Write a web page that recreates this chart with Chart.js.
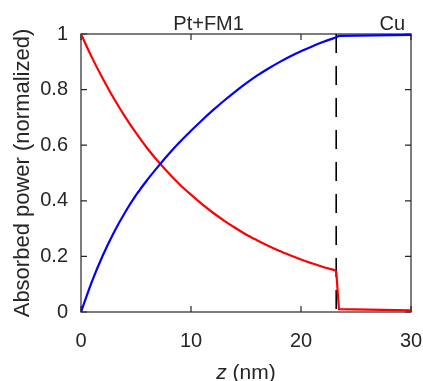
<!DOCTYPE html>
<html><head><meta charset="utf-8">
<script src="https://cdn.jsdelivr.net/npm/chart.js@4"></script>
<style>html,body{margin:0;padding:0;background:#fff;overflow:hidden}canvas{display:block}</style>
</head><body><canvas id="c" width="423" height="381" style="width:423px;height:381px"></canvas>
<script>
// ---- data ----
const zFM = [0,1,2,3,4,5,6,7,8,9,10,11,12,13,14,15,16,17,18,19,20,21,22,23.2];
const redFM  = [1,0.915,0.838,0.767,0.703,0.644,0.59,0.542,0.498,0.458,0.422,0.388,0.357,0.329,0.303,0.279,0.258,0.238,0.22,0.204,0.189,0.175,0.162,0.149];
const blueFM = [0,0.11,0.205,0.287,0.358,0.42,0.474,0.523,0.569,0.612,0.652,0.69,0.726,0.76,0.792,0.822,0.85,0.875,0.898,0.919,0.938,0.955,0.971,0.988];
const zCu    = [23.2, 23.45, 30];
const redCu  = [0.149, 0.01, 0.006];
const blueCu = [0.988, 0.993, 0.997];
const interfaceZ = 23.2;
const xTicks = [0,10,20,30];
const yTicks = [0,0.2,0.4,0.6,0.8,1];
const regionLabels = ['Pt+FM1','Cu'];
const regionLabelZ = [11.6, 28.3];
const xTitleItalic = 'z';
const xTitleRest = ' (nm)';
const yTitle = 'Absorbed power (normalized)';

const FONT = '"Liberation Sans", Arial, Helvetica, sans-serif';
const INK = '#262626';

const pts = (zs, vs) => zs.map((z,i)=>({x:z,y:vs[i]}));
const dashPts = [{x:interfaceZ,y:1},{x:interfaceZ,y:0}];

const framePlugin = {
  id:'frame',
  beforeDatasetsDraw(chart){
    const {ctx, chartArea:a, scales:{x,y}} = chart;
    ctx.save();
    ctx.strokeStyle = INK; ctx.lineWidth = 1.2;
    ctx.strokeRect(a.left, a.top, a.right-a.left, a.bottom-a.top);
    const tl = 6;
    ctx.beginPath();
    xTicks.forEach(v=>{const px=x.getPixelForValue(v);
      ctx.moveTo(px,a.bottom); ctx.lineTo(px,a.bottom-tl);
      ctx.moveTo(px,a.top); ctx.lineTo(px,a.top+tl);});
    yTicks.forEach(v=>{const py=y.getPixelForValue(v);
      ctx.moveTo(a.left,py); ctx.lineTo(a.left+tl,py);
      ctx.moveTo(a.right,py); ctx.lineTo(a.right-tl,py);});
    ctx.stroke();
    ctx.restore();
  },
  afterDraw(chart){
    const {ctx, chartArea:a, scales:{x}} = chart;
    ctx.save();
    ctx.fillStyle = INK;
    ctx.font = '20px '+FONT; ctx.textAlign='center'; ctx.textBaseline='alphabetic';
    regionLabels.forEach((t,i)=>ctx.fillText(t, x.getPixelForValue(regionLabelZ[i]), 30));
    ctx.textAlign='left';
    ctx.font = 'italic 21px '+FONT; const w1 = ctx.measureText(xTitleItalic).width;
    ctx.font = '21px '+FONT; const w2 = ctx.measureText(xTitleRest).width;
    const cx = (a.left+a.right)/2, sx = cx-(w1+w2)/2, by = 378.5;
    ctx.font = 'italic 21px '+FONT; ctx.fillText(xTitleItalic, sx, by);
    ctx.font = '21px '+FONT; ctx.fillText(xTitleRest, sx+w1, by);
    ctx.translate(29, (a.top+a.bottom)/2);
    ctx.rotate(-Math.PI/2);
    ctx.textAlign='center';
    ctx.font = '22px '+FONT;
    ctx.fillText(yTitle, 0, 0);
    ctx.restore();
  }
};

new Chart(document.getElementById('c'), {
  type:'line',
  data:{datasets:[
    {label:'blue', data:pts(zFM,blueFM), borderColor:'#0000ff', borderWidth:2.2, pointRadius:0, cubicInterpolationMode:'monotone', order:0},
    {label:'blue Cu', data:pts(zCu,blueCu), borderColor:'#0000ff', borderWidth:2.2, pointRadius:0, tension:0, order:0},
    {label:'red', data:pts(zFM,redFM), borderColor:'#ff0000', borderWidth:2.2, pointRadius:0, cubicInterpolationMode:'monotone', order:1},
    {label:'red Cu', data:pts(zCu,redCu), borderColor:'#ff0000', borderWidth:2.2, pointRadius:0, tension:0, order:1},
    {label:'interface', data:dashPts, borderColor:'#000000', borderWidth:1.6, borderDash:[19,13], pointRadius:0, order:2}
  ]},
  plugins:[framePlugin],
  options:{
    responsive:false, maintainAspectRatio:false, animation:false,
    devicePixelRatio:1,
    layout:{padding:{top:34,right:12,left:0,bottom:0}},
    plugins:{legend:{display:false}, tooltip:{enabled:false}},
    scales:{
      x:{type:'linear', min:0, max:30,
        afterBuildTicks(s){s.ticks = xTicks.map(v=>({value:v}));},
        afterFit(s){s.height = 69; s.paddingLeft = 0; s.paddingRight = 0;},
        grid:{display:false, drawTicks:false}, border:{display:false},
        ticks:{color:INK, font:{family:FONT,size:20}, padding:17, maxRotation:0}},
      y:{type:'linear', min:0, max:1,
        afterBuildTicks(s){s.ticks = yTicks.map(v=>({value:v}));},
        afterFit(s){s.width = 81; s.paddingTop = 0; s.paddingBottom = 0;},
        grid:{display:false, drawTicks:false}, border:{display:false},
        ticks:{color:INK, font:{family:FONT,size:20}, padding:13, callback:v=>String(v)}}
    }
  }
});
</script></body></html>
